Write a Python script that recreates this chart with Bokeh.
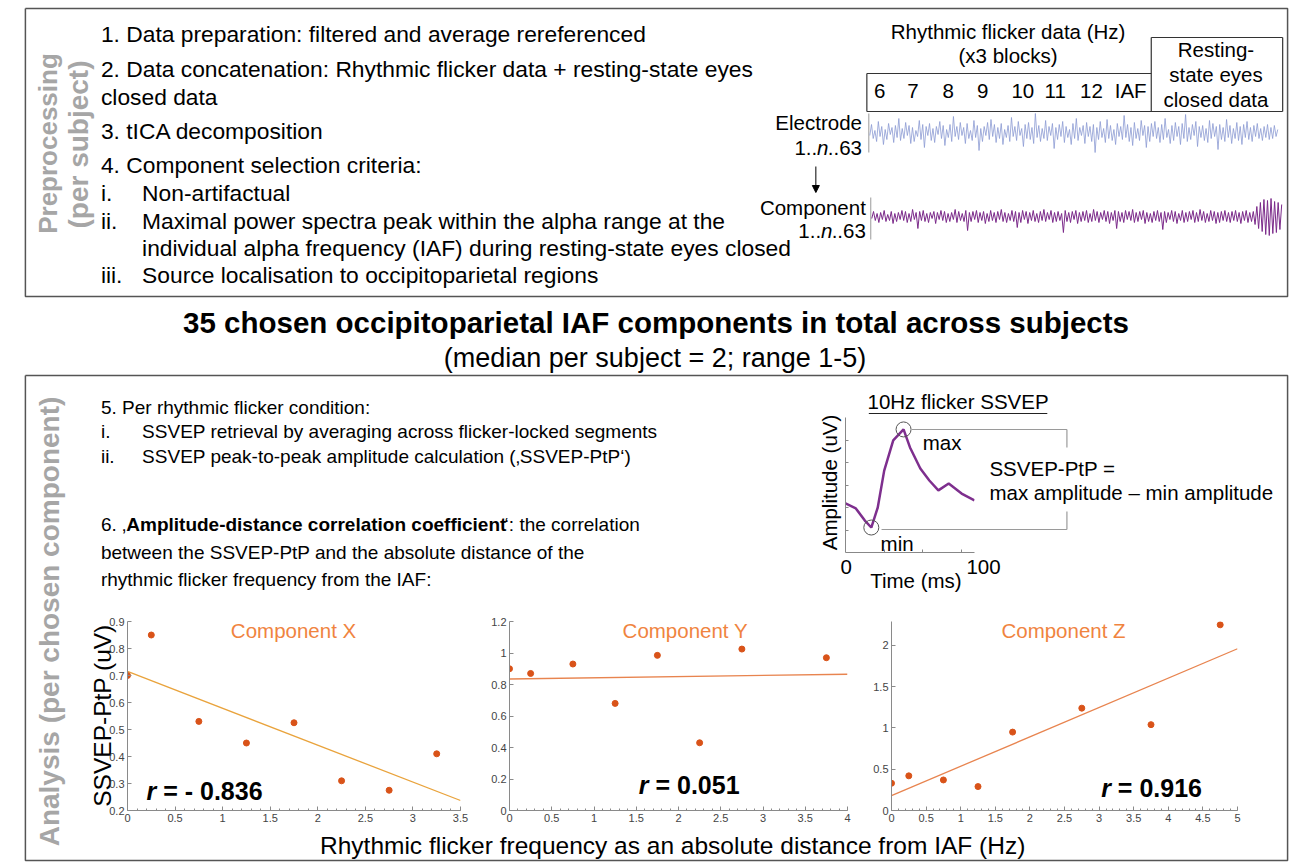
import numpy as np
from bokeh.plotting import figure
from bokeh.layouts import column, row
from bokeh.models import Range1d, Arrow, NormalHead, FixedTicker, NumeralTickFormatter
from bokeh.core.properties import value
from bokeh.embed import file_html
from bokeh.resources import INLINE

FONT = "Liberation Sans"
GRAY_LABEL = "#A6A6A6"

# ---------------- data ----------------
flicker_labels = ["6", "7", "8", "9", "10", "11", "12", "IAF"]

electrode_trace = [
    3, -8, 6, -2, 9, -11, 4, -6, 12, -3, 7, -9, 2, -5, 10, -7, 5, -14, 8, -4,
    6, -10, 3, -7, 11, -5, 9, -2, 4, -12, 7, -8, 15, -6, 3, -9, 8, -4, 10, -6,
    2, -11, 6, -7, 13, -3, 5, -8, 9, -16, 4, -6, 7, -10, 3, -5, 11, -9, 6, -2,
    8, -12, 5, -7, 18, -4, 9, -6, 3, -10, 7, -13, 4, -8, 10, -5, 6, -9, 12, -3,
    5, -7, 9, -15, 4, -6, 8, -11, 3, -4, 14, -8, 6, -10, 7, -5, 11, -19, 5, -7,
    9, -4, 6, -12, 8, -6, 3, -9, 16, -5, 7, -8, 4, -11, 10, -6, 5, -3, 12, -9,
    6, -14, 8, -5, 3, -7, 11, -10, 4, -6, 9, -8, 20, -5, 7, -11, 5, -4, 10, -13,
    6, -7, 8, -3, 12, -9, 4, -6, 7, -17, 5, -8, 9, -5, 13, -10, 6, -4, 8, -12,
    3, -7, 15, -6, 9, -9, 4, -11, 6, -5, 10, -8, 7, -14, 5, -3, 11, -7, 8, -10,
    4, -6, 12, -9, 6, -18, 9, -5, 7, -8, 3, -11, 14, -6, 5, -7, 8, -4, 10, -12,
    6, -9, 4, -6, 17, -8, 7, -5, 9, -13, 5, -7, 11, -4, 6, -10, 8, -6, 12, -8,
    5, -11, 7, -5, 9, -7, 4, -9, 6, -4, 8, -6, 5, -8, 7, -5, 6, -7, 4, -3]
component_trace = [
    2, -5, 4, -3, 6, -4, 3, -6, 5, -2, 4, -5, 7, -3, 5, -4, 3, -6, 4, -5,
    6, -3, 5, -7, 3, -4, 12, -5, 4, -6, 5, -3, 6, -4, 2, -5, 7, -4, 3, -6,
    4, -5, 6, -3, 5, -4, 3, -7, 6, -5, 4, -3, 5, -6, 14, -4, 5, -5, 3, -6,
    6, -4, 4, -5, 7, -3, 5, -6, 4, -4, 6, -5, 3, -7, 5, -4, 6, -3, 4, -6,
    5, -5, 11, -4, 6, -6, 3, -5, 7, -4, 4, -6, 5, -3, 6, -5, 4, -7, 5, -4,
    3, -6, 6, -4, 5, -5, 4, -3, 16, -6, 5, -4, 6, -5, 3, -6, 7, -4, 5, -5,
    4, -6, 6, -3, 5, -7, 4, -5, 6, -4, 3, -6, 5, -5, 7, -4, 4, -6, 12, -5,
    5, -4, 6, -6, 3, -5, 4, -7, 6, -4, 5, -5, 3, -6, 7, -4, 5, -3, 6, -5,
    4, -6, 5, -4, 13, -5, 6, -4, 3, -6, 5, -5, 7, -3, 4, -6, 6, -4, 5, -5,
    3, -6, 6, -4, 5, -7, 4, -5, 6, -3, 5, -6, 4, -5, 7, -4, 6, -5, 4, -6,
    5, -4, 6, -5, 4, -6, 5, -4, 7, -5, 4, -6, 6, -4, 5, -5, 8, -10, 12, -14,
    15, -17, 18, -16, 19, -18, 17, -15, 16, -14, 13, -12]

ssvep_time = [0, 8, 15, 20, 25, 30, 37, 45, 50, 58, 65, 72, 80, 90, 100]
ssvep_amp = [2.18, 1.96, 1.42, 1.11, 2.0, 3.64, 4.98, 5.47, 4.67, 3.73, 3.2, 2.76, 3.07, 2.62, 2.31]

dist_x = [0, 0.25, 0.75, 1.25, 1.75, 2.25, 2.75, 3.25]
ptp_x = [0.70, 0.85, 0.53, 0.45, 0.525, 0.31, 0.275, 0.41]
fitx_x = [0, 3.5]
fity_x = [0.715, 0.237]

dist_y = [0, 0.25, 0.75, 1.25, 1.75, 2.25, 2.75, 3.75]
ptp_y = [0.90, 0.87, 0.93, 0.68, 0.985, 0.43, 1.025, 0.97]
fitx_y = [0, 4]
fity_y = [0.835, 0.865]

dist_z = [0, 0.25, 0.75, 1.25, 1.75, 2.75, 3.75, 4.75]
ptp_z = [0.33, 0.42, 0.37, 0.29, 0.95, 1.24, 1.04, 2.25]
fitx_z = [0, 5]
fity_z = [0.18, 1.96]

xticks_x = [0, 0.5, 1, 1.5, 2, 2.5, 3, 3.5]
yticks_x = [0.2, 0.3, 0.4, 0.5, 0.6, 0.7, 0.8, 0.9]
xticks_y = [0, 0.5, 1, 1.5, 2, 2.5, 3, 3.5, 4]
yticks_y = [0, 0.2, 0.4, 0.6, 0.8, 1, 1.2]
xticks_z = [0, 0.5, 1, 1.5, 2, 2.5, 3, 3.5, 4, 4.5, 5]
yticks_z = [0, 0.5, 1, 1.5, 2]

r_values = ["- 0.836", "0.051", "0.916"]
component_names = ["Component X", "Component Y", "Component Z"]

BOLD_W = {'A': 722, 'm': 889, 'p': 611, 'l': 278, 'i': 278, 't': 333, 'u': 611, 'd': 611, 'e': 556,
          '-': 333, 's': 556, 'a': 556, 'n': 611, 'c': 556, ' ': 278, 'o': 611, 'r': 389, 'f': 333}
REG_W = {'1': 556, '.': 278, '6': 556, '3': 556, ' ': 278, '\u201a': 222}


def width(s, table, size):
    return sum(table[c] for c in s) / 1000.0 * size


def txt(p, x, y, s, size, align="left", style="normal", color="black", angle=0.0, baseline="middle"):
    p.text(x=[x], y=[y], text=[s], text_font=value(FONT), text_font_size=f"{size}px",
           text_align=align, text_baseline=baseline, text_font_style=style,
           text_color=color, angle=angle)


def seg(p, x0, y0, x1, y1, color="#404040", w=1.2):
    p.segment(x0=[x0], y0=[y0], x1=[x1], y1=[y1], line_color=color, line_width=w)


# canvas in picture (page) coordinates
W, H = 1296, 862
cv = figure(width=W, height=H, x_range=Range1d(0, W), y_range=Range1d(H, 0),
            output_backend="svg", toolbar_location=None, min_border=0,
            x_axis_location=None, y_axis_location=None)
cv.grid.visible = False
cv.outline_line_color = None

BOX = "#555555"
cv.multi_line(xs=[[5, 1292, 1292, 5, 5]], ys=[[8, 8, 296, 296, 8]], line_color=BOX, line_width=1.5)
cv.multi_line(xs=[[5, 1292, 1292, 5, 5]], ys=[[375, 375, 860, 860, 375]], line_color=BOX, line_width=1.5)

txt(cv, 28, 143, "Preprocessing", 26, align="center", style="bold", color=GRAY_LABEL, angle=np.pi / 2)
txt(cv, 59, 144, "(per subject)", 28, align="center", style="bold", color=GRAY_LABEL, angle=np.pi / 2)
txt(cv, 30, 621, "Analysis (per chosen component)", 28, align="center", style="bold",
    color=GRAY_LABEL, angle=np.pi / 2)

FS1 = 22.8
txt(cv, 82, 33, "1. Data preparation: filtered and average rereferenced", FS1)
txt(cv, 82, 68, "2. Data concatenation: Rhythmic flicker data + resting-state eyes", FS1)
txt(cv, 82, 96, "closed data", FS1)
txt(cv, 82, 130, "3. tICA decomposition", FS1)
txt(cv, 82, 164, "4. Component selection criteria:", FS1)
txt(cv, 82, 192, "i.", FS1)
txt(cv, 124, 192, "Non-artifactual", FS1)
txt(cv, 82, 220, "ii.", FS1)
txt(cv, 124, 220, "Maximal power spectra peak within the alpha range at the", FS1)
txt(cv, 124, 247, "individual alpha frequency (IAF) during resting-state eyes closed", FS1)
txt(cv, 82, 274, "iii.", FS1)
txt(cv, 124, 274, "Source localisation to occipitoparietal regions", FS1)

FS2 = 20.5
txt(cv, 1007, 31, "Rhythmic flicker data (Hz)", FS2, align="center")
txt(cv, 1007, 55, "(x3 blocks)", FS2, align="center")
freq_x = [876, 910, 946, 981, 1022, 1055, 1092, 1132]
cv.text(x=freq_x, y=[90] * len(freq_x), text=flicker_labels, text_font=value(FONT),
        text_font_size=f"{FS2}px", text_align="center", text_baseline="middle")
seg(cv, 863, 73, 1153, 73, "#333333")
seg(cv, 863, 73, 863, 111, "#333333")
seg(cv, 863, 111, 1287, 111, "#333333")
seg(cv, 1153, 37, 1287, 37, "#333333")
seg(cv, 1153, 37, 1153, 111, "#333333")
seg(cv, 1287, 37, 1287, 111, "#333333")
txt(cv, 1219, 49, "Resting-", FS2, align="center")
txt(cv, 1219, 74, "state eyes", FS2, align="center")
txt(cv, 1219, 99, "closed data", FS2, align="center")


def n_label(xr, y):
    w63 = width("..63", REG_W, FS2)
    wn = 0.556 * FS2
    txt(cv, xr, y, "..63", FS2, align="right")
    txt(cv, xr - w63, y, "n", FS2, align="right", style="italic")
    txt(cv, xr - w63 - wn, y, "1..", FS2, align="right")


txt(cv, 858, 122, "Electrode", FS2, align="right")
n_label(858, 147)
txt(cv, 862, 207, "Component", FS2, align="right")
n_label(862, 230)
cv.add_layout(Arrow(end=NormalHead(size=7, fill_color="black", line_color="black"),
                    x_start=811, y_start=166, x_end=811, y_end=192, line_color="black", line_width=1))

seg(cv, 865, 113, 865, 152, "#9a9a9a", 1)
seg(cv, 867, 197, 867, 239, "#9a9a9a", 1)
ex = np.linspace(866, 1282, len(electrode_trace))
cv.line(x=ex, y=132 + np.array(electrode_trace), line_color="#8C9BD3", line_width=0.8)
cx = np.linspace(868, 1286, len(component_trace))
cv.line(x=cx, y=216 + np.array(component_trace), line_color="#7B2A8A", line_width=1.0)

txt(cv, 648, 322, "35 chosen occipitoparietal IAF components in total across subjects", 29.5,
    align="center", style="bold")
txt(cv, 647, 357, "(median per subject = 2; range 1-5)", 27, align="center")

FS3 = 19
txt(cv, 82, 407, "5. Per rhythmic flicker condition:", FS3)
txt(cv, 82, 431, "i.", FS3)
txt(cv, 124, 431, "SSVEP retrieval by averaging across flicker-locked segments", FS3)
txt(cv, 82, 456, "ii.", FS3)
txt(cv, 124, 456, "SSVEP peak-to-peak amplitude calculation (\u201aSSVEP-PtP\u2018)", FS3)
pre6 = "6. \u201a"
bold6 = "Amplitude-distance correlation coefficient"
x6 = 82
txt(cv, x6, 524, pre6, FS3)
x6b = x6 + width(pre6, REG_W, FS3) * 1.02
txt(cv, x6b, 524, bold6, FS3, style="bold")
txt(cv, x6b + width(bold6, BOLD_W, FS3) * 1.015, 524, "\u2018: the correlation", FS3)
txt(cv, 82, 552, "between the SSVEP-PtP and the absolute distance of the", FS3)
txt(cv, 82, 579, "rhythmic flicker frequency from the IAF:", FS3)

txt(cv, 956, 401, "10Hz flicker SSVEP", FS2, align="center")
seg(cv, 865, 413, 1047, 413, "#222222", 1.2)
txt(cv, 825, 482, "Amplitude (uV)", FS2, align="center", angle=np.pi / 2)
txt(cv, 842, 566, "0", FS2, align="center")
txt(cv, 982, 566, "100", FS2, align="center")
txt(cv, 913, 580, "Time (ms)", FS2, align="center")
txt(cv, 920, 442, "max", FS2)
txt(cv, 877, 543, "min", FS2)
txt(cv, 988, 468, "SSVEP-PtP =", FS2)
txt(cv, 988, 492, "max amplitude \u2013 min amplitude", FS2)
BR = "#9a9a9a"
seg(cv, 909, 429, 1067, 429, BR, 1.2)
seg(cv, 1067, 429, 1067, 447, BR, 1.2)
seg(cv, 1067, 511, 1067, 529, BR, 1.2)
seg(cv, 878, 529, 1067, 529, BR, 1.2)

txt(cv, 665, 845, "Rhythmic flicker frequency as an absolute distance from IAF (Hz)", 24.5, align="center")
txt(cv, 84, 715, "SSVEP-PtP (uV)", 24.5, align="center", angle=np.pi / 2)

# ---------------- inset figure (overlay) ----------------
INS_TOP = 412
ins = figure(width=154, height=160, x_range=Range1d(0, 100), y_range=Range1d(0, 6),
             output_backend="svg", toolbar_location=None,
             min_border_left=20, min_border_right=5, min_border_top=5, min_border_bottom=20,
             margin=(INS_TOP - H, 0, 0, 825))
ins.background_fill_alpha = 0
ins.border_fill_alpha = 0
ins.outline_line_color = None
ins.grid.visible = False
for ax in (ins.xaxis[0], ins.yaxis[0]):
    ax.axis_line_color = "#888888"
    ax.minor_tick_line_color = "#888888"
    ax.major_tick_line_color = None
    ax.minor_tick_in = 3
    ax.minor_tick_out = 0
ins.xaxis.ticker = FixedTicker(ticks=[], minor_ticks=[30, 60, 90])
ins.yaxis.ticker = FixedTicker(ticks=[], minor_ticks=[1, 2, 3, 4, 5])
ins.line(ssvep_time, ssvep_amp, line_color="#7E2F8E", line_width=2.5)
imin = int(np.argmin(ssvep_amp))
imax = int(np.argmax(ssvep_amp))
ins.scatter([ssvep_time[imin], ssvep_time[imax]], [ssvep_amp[imin], ssvep_amp[imax]],
            size=15, fill_alpha=0, line_color="#555555", line_width=1)


def panel(xs, ys, fx, fy, xr, yr, xt, yt, frame_w, mright, ml, line_col, title, title_x, rtxt, rx, ry):
    p = figure(width=32 + frame_w + mright, height=12 + 189 + 25,
               x_range=Range1d(*xr), y_range=Range1d(*yr),
               output_backend="svg", toolbar_location=None,
               min_border_left=32, min_border_right=mright, min_border_top=12, min_border_bottom=25,
               margin=(0, 0, 0, ml))
    p.background_fill_alpha = 0
    p.border_fill_alpha = 0
    p.outline_line_color = None
    p.grid.visible = False
    minor = [round(xr[0] + 0.1 * k, 2) for k in range(int(round((xr[1] - xr[0]) / 0.1)) + 1)]
    p.xaxis.ticker = FixedTicker(ticks=xt, minor_ticks=minor)
    p.yaxis.ticker = FixedTicker(ticks=yt)
    for ax in (p.xaxis[0], p.yaxis[0]):
        ax.formatter = NumeralTickFormatter(format="0.[0]")
        ax.axis_line_color = "#8a8a8a"
        ax.major_tick_line_color = "#8a8a8a"
        ax.minor_tick_line_color = "#8a8a8a"
        ax.major_tick_in = 4
        ax.major_tick_out = 0
        ax.minor_tick_in = 2
        ax.minor_tick_out = 0
        ax.major_label_text_font = FONT
        ax.major_label_text_font_size = "11px"
        ax.major_label_text_color = "#444444"
        ax.major_label_standoff = 3
    p.line(fx, fy, line_color=line_col, line_width=1.3)
    p.scatter(xs, ys, size=6, fill_color="#D95319", line_color="#D95319")
    p.text(x=[title_x], y=[yr[1]], text=[title], text_font=value(FONT), text_font_size="20.5px",
           text_color="#F0843F", text_align="center", text_baseline="middle", y_offset=9)
    p.text(x=[rx], y=[ry], text=["r"], text_font=value(FONT), text_font_size="25px",
           text_font_style="bold italic", text_align="left", text_baseline="middle")
    p.text(x=[rx], y=[ry], text=["= " + rtxt], text_font=value(FONT), text_font_size="25px",
           text_font_style="bold", text_align="left", text_baseline="middle",
           x_offset=(0.389 + 0.278) * 25)
    return p


s1 = panel(dist_x, ptp_x, fitx_x, fity_x, (0, 3.5), (0.2, 0.9), xticks_x, yticks_x, 333, 10, 95,
           "#E9A33C", component_names[0], 1.745, r_values[0], 0.2, 0.274)
s2 = panel(dist_y, ptp_y, fitx_y, fity_y, (0, 4), (0, 1.2), xticks_y, yticks_y, 338, 10, 7,
           "#E8844F", component_names[1], 2.08, r_values[1], 1.53, 0.159)
s3 = panel(dist_z, ptp_z, fitx_z, fity_z, (0, 5), (0, 2.29), xticks_z, yticks_z, 346, 12, 2,
           "#E8844F", component_names[2], 2.486, r_values[2], 3.03, 0.268)

ROW_TOP = 609
srow = row(s1, s2, s3, margin=(ROW_TOP - (INS_TOP + 160), 0, 0, 0))

layout = column(cv, ins, srow)
open("out.html", "w").write(file_html(layout, INLINE))
